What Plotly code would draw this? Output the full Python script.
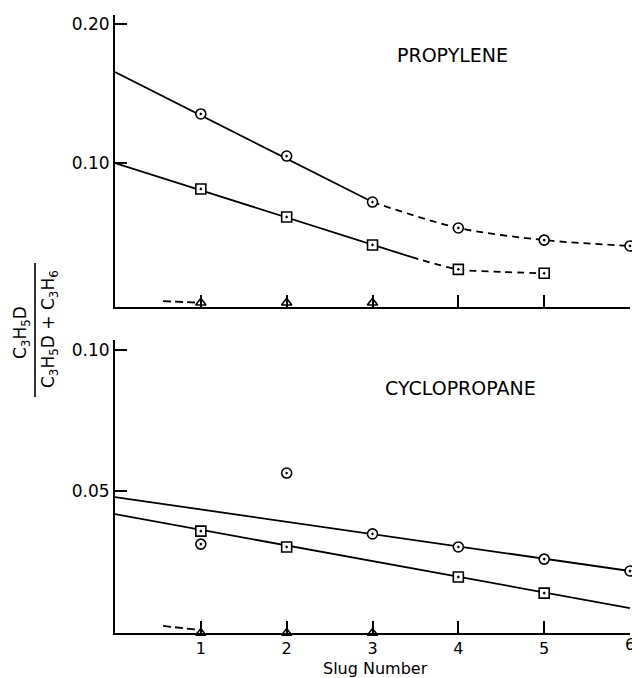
import plotly.graph_objects as go

# ---------------- data ----------------
slug = [1, 2, 3, 4, 5, 6]
x_tick_vals = [1, 2, 3, 4, 5, 6]
x_tick_text = ["1", "2", "3", "4", "5", "6"]

# Propylene panel
prop_circle = [0.1355, 0.1053, 0.0723, 0.0537, 0.0450, 0.0408]
prop_square_x = [1, 2, 3, 4, 5]
prop_square = [0.0817, 0.0616, 0.0415, 0.0240, 0.0212]
prop_circle_fit_x = [0, 3]
prop_circle_fit_y = [0.1656, 0.0723]
prop_circle_dash_x = [3, 4, 5, 6]
prop_circle_dash_y = [0.0723, 0.0537, 0.0450, 0.0408]
prop_square_fit_x = [0, 3.45]
prop_square_fit_y = [0.1003, 0.0329]
prop_square_dash_x = [3.45, 4, 4.5, 5]
prop_square_dash_y = [0.0329, 0.0240, 0.0222, 0.0212]
prop_tri_x = [1, 2, 3]
prop_tri_y = [0, 0, 0]
prop_tri_dash_x = [0.56, 0.95]
prop_tri_dash_y = [0.0012, 0.0002]
prop_yticks = [0.10, 0.20]
prop_yticktext = ["0.10", "0.20"]

# Cyclopropane panel
cyc_circle = [0.0314, 0.0565, 0.0350, 0.0304, 0.0261, 0.0219]
cyc_square_x = [1, 2, 4, 5]
cyc_square = [0.0360, 0.0304, 0.0198, 0.0141]
cyc_circle_fit_x = [0, 6]
cyc_circle_fit_y = [0.0480, 0.0219]
cyc_square_fit_x = [0, 6]
cyc_square_fit_y = [0.0420, 0.0088]
cyc_tri_x = [1, 2, 3]
cyc_tri_y = [0, 0, 0]
cyc_tri_dash_x = [0.56, 0.95]
cyc_tri_dash_y = [0.0025, 0.0012]
cyc_yticks = [0.05, 0.10]
cyc_yticktext = ["0.05", "0.10"]

FONT = "DejaVu Sans"
BLK = "black"

fig = go.Figure()


def add_line(x, y, xa, ya, dash="solid", shape="linear"):
    fig.add_trace(go.Scatter(x=x, y=y, mode="lines", xaxis=xa, yaxis=ya,
                             line=dict(color=BLK, width=1.8, dash=dash, shape=shape, smoothing=0.8),
                             showlegend=False, hoverinfo="skip", cliponaxis=False))


def add_markers(x, y, xa, ya, symbol, size=10):
    fig.add_trace(go.Scatter(x=x, y=y, mode="markers", xaxis=xa, yaxis=ya,
                             marker=dict(symbol=symbol, size=size, color="white",
                                         line=dict(color=BLK, width=1.6)),
                             showlegend=False, cliponaxis=False))


# top panel (x2, y2)
add_line(prop_circle_fit_x, prop_circle_fit_y, "x2", "y2")
add_line(prop_circle_dash_x, prop_circle_dash_y, "x2", "y2", dash="7px,5px", shape="spline")
add_line(prop_square_fit_x, prop_square_fit_y, "x2", "y2")
add_line(prop_square_dash_x, prop_square_dash_y, "x2", "y2", dash="7px,5px", shape="spline")
add_line(prop_tri_dash_x, prop_tri_dash_y, "x2", "y2", dash="8px,4px")
add_markers(slug, prop_circle, "x2", "y2", "circle-dot")
add_markers(prop_square_x, prop_square, "x2", "y2", "square-dot")
fig.add_trace(go.Scatter(x=prop_tri_x, y=prop_tri_y, mode="markers", xaxis="x2", yaxis="y2",
                         marker=dict(symbol="triangle-up-open", size=9, color=BLK, line=dict(width=1.6)),
                         showlegend=False, cliponaxis=False))

# bottom panel (x, y)
add_line(cyc_circle_fit_x, cyc_circle_fit_y, "x", "y")
add_line(cyc_square_fit_x, cyc_square_fit_y, "x", "y")
add_line(cyc_tri_dash_x, cyc_tri_dash_y, "x", "y", dash="8px,4px")
add_markers(slug, cyc_circle, "x", "y", "circle-dot")
add_markers(cyc_square_x, cyc_square, "x", "y", "square-dot")
fig.add_trace(go.Scatter(x=cyc_tri_x, y=cyc_tri_y, mode="markers", xaxis="x", yaxis="y",
                         marker=dict(symbol="triangle-up-open", size=9, color=BLK, line=dict(width=1.6)),
                         showlegend=False, cliponaxis=False))

axis_common = dict(showgrid=False, zeroline=False, showline=True, linecolor=BLK, linewidth=2,
                   ticks="inside", ticklen=12, tickwidth=1.6, tickcolor=BLK)

top_dom = [0.5275, 1.0]
bot_dom = [0.0, 0.4741]

fig.update_layout(
    width=632, height=678,
    margin=dict(l=115, r=2, t=15, b=45),
    paper_bgcolor="white", plot_bgcolor="white",
    font=dict(family=FONT, color=BLK),
    xaxis=dict(domain=[0, 1], range=[0, 6], anchor="y",
               tickmode="array", tickvals=x_tick_vals, ticktext=x_tick_text[:5] + [""],
               tickfont=dict(family=FONT, size=16, color=BLK), **axis_common),
    yaxis=dict(domain=bot_dom, range=[0, 0.1035], anchor="x",
               tickmode="array", tickvals=cyc_yticks, ticktext=cyc_yticktext,
               tickfont=dict(family=FONT, size=17, color=BLK), **axis_common),
    xaxis2=dict(domain=[0, 1], range=[0, 6], anchor="y2", matches="x",
                tickmode="array", tickvals=x_tick_vals, showticklabels=False, **axis_common),
    yaxis2=dict(domain=top_dom, range=[-0.003, 0.2065], anchor="x2",
                tickmode="array", tickvals=prop_yticks, ticktext=prop_yticktext,
                tickfont=dict(family=FONT, size=17, color=BLK), **axis_common),
)

px_to_xp = lambda px: (px - 115) / 515.0
py_to_yp = lambda py: (633 - py) / 618.0

# last x tick label, partly cut off by the page edge as in the reference
fig.add_annotation(x=6, y=py_to_yp(644), xref="x", yref="paper", text=x_tick_text[5],
                   showarrow=False, xanchor="center", yanchor="middle",
                   font=dict(family=FONT, size=16, color=BLK))
# x-axis title
fig.add_annotation(x=px_to_xp(375), y=py_to_yp(668), xref="paper", yref="paper",
                   text="Slug Number", showarrow=False, xanchor="center", yanchor="middle",
                   font=dict(family=FONT, size=16, color=BLK))

fig.add_annotation(x=3.93, y=0.178, xref="x2", yref="y2", text="PROPYLENE", showarrow=False,
                   xanchor="center", yanchor="middle",
                   font=dict(family=FONT, size=19, color=BLK))
fig.add_annotation(x=(460 - 115) / 85.83, y=py_to_yp(388), xref="x", yref="paper",
                   text="CYCLOPROPANE", showarrow=False, xanchor="center", yanchor="middle",
                   font=dict(family=FONT, size=19, color=BLK))

# y-axis fraction label
fig.add_annotation(x=px_to_xp(21), y=py_to_yp(333), xref="paper", yref="paper",
                   text="C<sub>3</sub>H<sub>5</sub>D", textangle=-90, showarrow=False,
                   xanchor="center", yanchor="middle",
                   font=dict(family=FONT, size=17, color=BLK))
fig.add_annotation(x=px_to_xp(49), y=py_to_yp(329), xref="paper", yref="paper",
                   text="C<sub>3</sub>H<sub>5</sub>D + C<sub>3</sub>H<sub>6</sub>", textangle=-90,
                   showarrow=False, xanchor="center", yanchor="middle",
                   font=dict(family=FONT, size=17, color=BLK))
fig.add_shape(type="line", xref="paper", yref="paper",
              x0=px_to_xp(35), x1=px_to_xp(35), y0=py_to_yp(263), y1=py_to_yp(397),
              line=dict(color=BLK, width=1.6))

fig.write_html("out.html")
